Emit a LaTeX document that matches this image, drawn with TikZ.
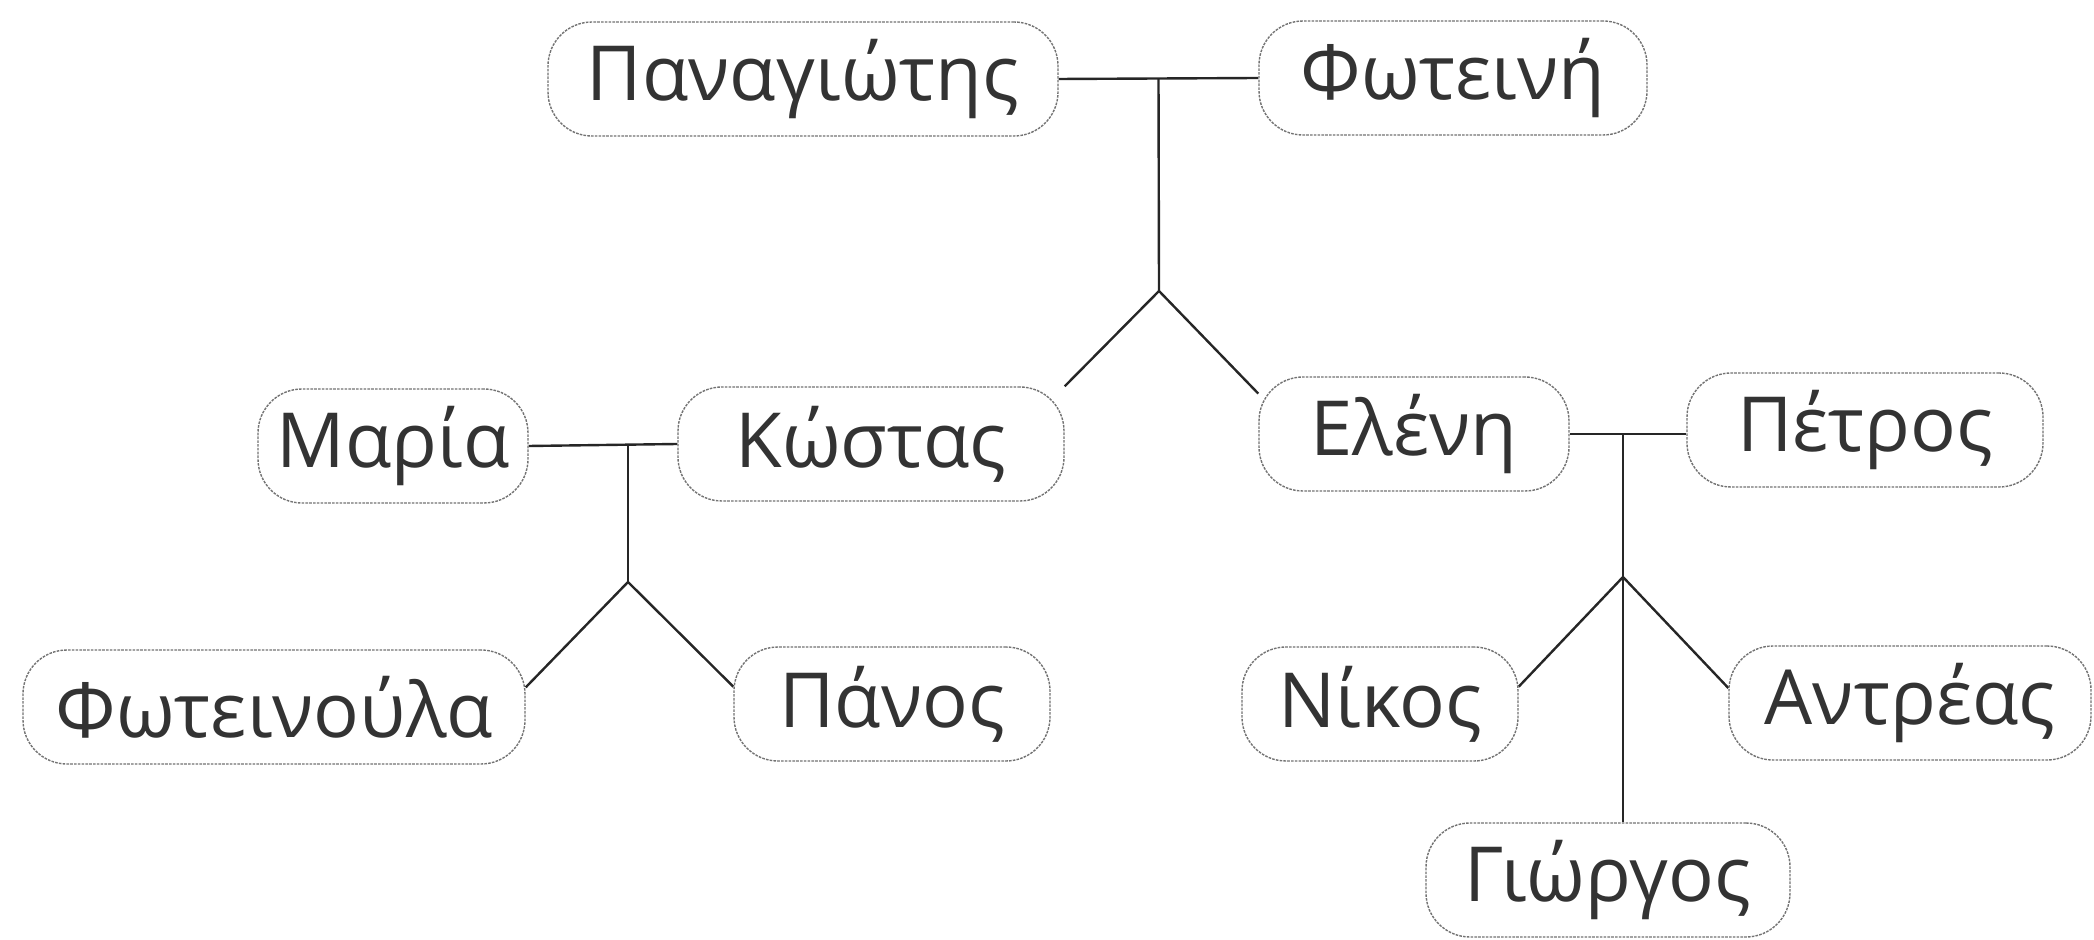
\documentclass[tikz,border=0pt]{standalone}
\usepackage{fontspec}
\setmainfont{Open Sans}
\usetikzlibrary{calc,backgrounds}

\tikzset{person/.style={draw=black!55, dash pattern=on 1.3pt off 0.6pt, line width=0.7pt,
  rounded corners=22pt, fill=white, minimum height=57pt, inner sep=0pt,
  text=black!80, font=\fontsize{38}{40}\selectfont},
  branch/.style={line width=1.2pt, black!85}}

\begin{document}
\begin{tikzpicture}[x=0.5pt,y=-0.5pt]
\useasboundingbox (0,0) rectangle (2094,940);

% Grandparents
\node[person, minimum width=255pt] (pan) at (803,79) {Παναγιώτης};
\node[person, minimum width=194pt] (fot) at (1453,78) {Φωτεινή};

% Children and their partners
\node[person, minimum width=135pt] (mar) at (393,446) {Μαρία};
\node[person, minimum width=193pt] (kos) at (871,444) {Κώστας};
\node[person, minimum width=155pt] (ele) at (1414,434) {Ελένη};
\node[person, minimum width=178pt] (pet) at (1865,430) {Πέτρος};

% Grandchildren
\node[person, minimum width=251pt] (fou) at (274,707) {Φωτεινούλα};
\node[person, minimum width=158pt] (pns) at (892,704) {Πάνος};
\node[person, minimum width=138pt] (nik) at (1380,704) {Νίκος};
\node[person, minimum width=181pt] (ant) at (1910,703) {Αντρέας};
\node[person, minimum width=182pt] (gio) at (1608,880) {Γιώργος};

% Branches
\begin{scope}[on background layer]
\begin{scope}[branch]
\draw (pan.east) -- (fot.west);
\coordinate (t1) at ($(pan.east)!.5!(fot.west)$);
\coordinate (j1) at (1159,291);
\draw (t1) -- (j1);
\draw (j1) -- (kos.north east);
\draw (j1) -- ($(ele.north west)!.15!(ele.south west)$);

\draw (mar.east) -- (kos.west);
\coordinate (t2) at (628,445);
\coordinate (j2) at (628,582);
\draw (t2) -- (j2);
\draw (j2) -- ($(fou.north east)!.33!(fou.south east)$);
\draw (j2) -- ($(pns.north west)!.35!(pns.south west)$);

\draw (ele.east) -- (ele.east -| pet.west);
\coordinate (t3) at (1623,434);
\coordinate (j3) at (1623,577);
\draw (t3) -- (j3);
\draw (j3) -- ($(nik.north east)!.35!(nik.south east)$);
\draw (j3) -- ($(ant.north west)!.37!(ant.south west)$);
\draw (j3) -- (j3 |- gio.north);
\end{scope}
\end{scope}

\end{tikzpicture}
\end{document}
